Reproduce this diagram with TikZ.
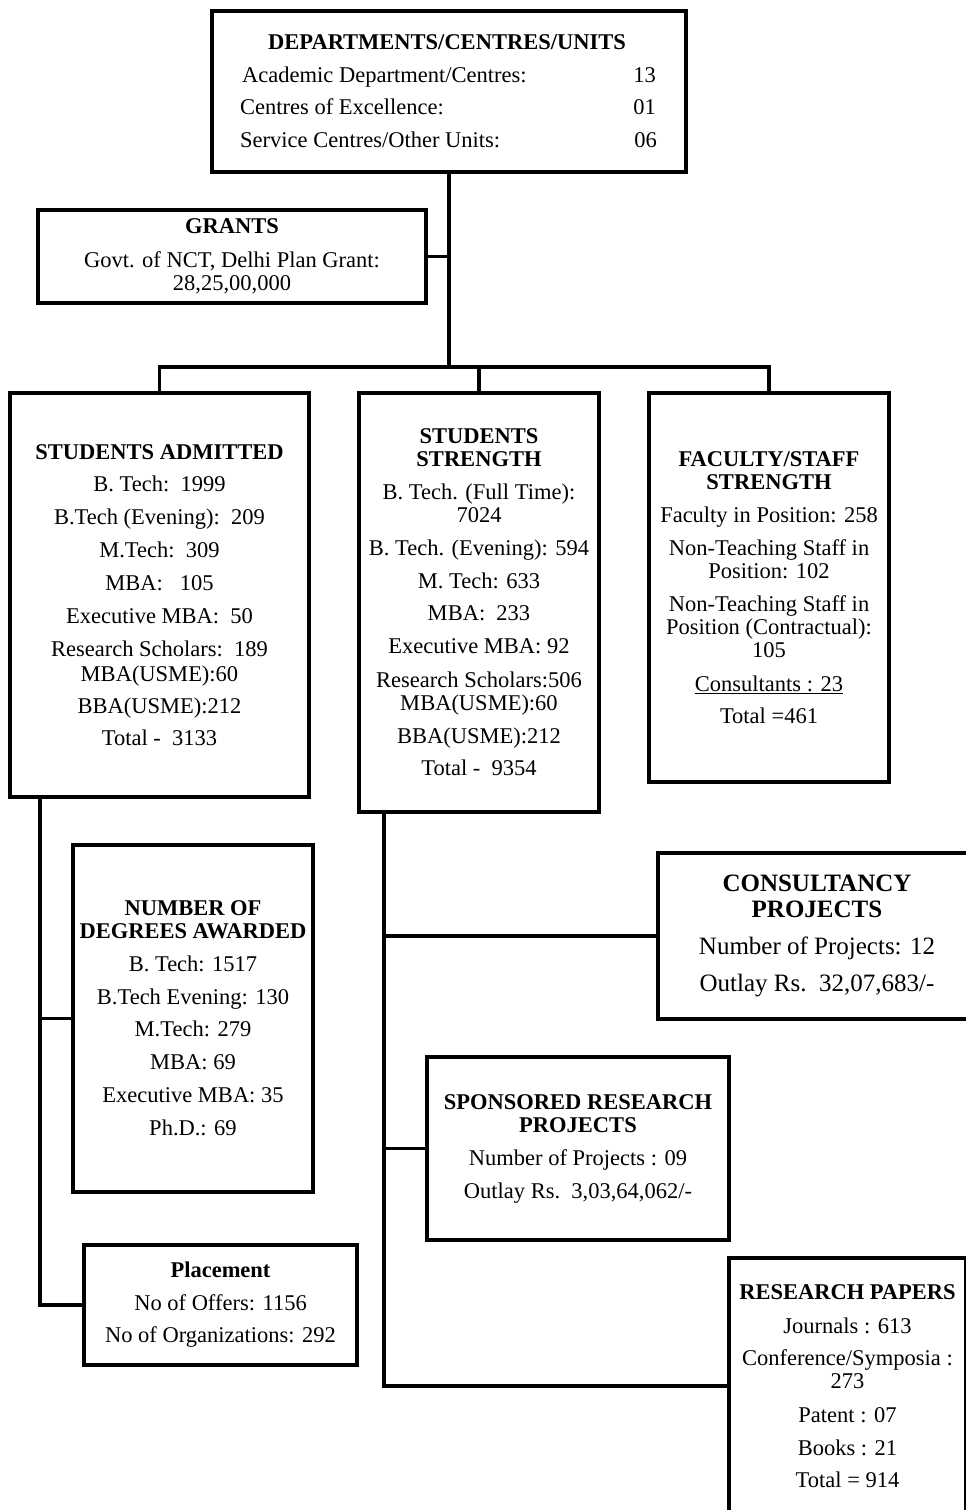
\documentclass[tikz,border=0pt]{standalone}
\usepackage{fontspec}
\setmainfont{Liberation Serif}
\begin{document}
\begin{tikzpicture}[x=1pt,y=-1pt,
  box/.style={draw, line width=3.5pt, align=center, inner sep=0pt,
    font=\fontsize{22.5}{23}\selectfont},
  txt/.style={inner sep=0pt, font=\fontsize{22.5}{23}\selectfont},
  bigbox/.style={box, font=\fontsize{25}{26}\selectfont},
  conn/.style={line width=3.5pt}]
\useasboundingbox (0,0) rectangle (966,1510);
\fill[white] (0,0) rectangle (966,1510);

% top box
\node[box, minimum width=474pt, minimum height=161pt] (top) at (449,91.5) {};
\node[txt, anchor=base, font=\bfseries\fontsize{22.5}{23}\selectfont] (toph) at (447,49) {DEPARTMENTS/CENTRES/UNITS};
\node[txt, anchor=base west] (r1) at (242,82) {Academic Department/Centres:};
\node[txt, anchor=base east] (n1) at (656,82) {13};
\node[txt, anchor=base west] (r2) at (240,114) {Centres of Excellence:};
\node[txt, anchor=base east] (n2) at (656,114) {01};
\node[txt, anchor=base west] (r3) at (240,147) {Service Centres/Other Units:};
\node[txt, anchor=base east] (n3) at (657,147) {06};

% grants
\node[box, minimum width=388pt, minimum height=93pt] (grants) at (232,256.5)
  {{\bfseries GRANTS}\\[11pt]Govt. of NCT, Delhi Plan Grant:\\28,25,00,000};

\coordinate (hub) at (449,367);

% students admitted
\node[box, minimum width=299pt, minimum height=404pt] (sa) at (159.5,595)
  {{\bfseries STUDENTS ADMITTED}\\[9pt]
   B. Tech:\ \ 1999\\[10pt]
   B.Tech (Evening):\ \ 209\\[10pt]
   M.Tech:\ \ 309\\[10pt]
   MBA:\ \ \ 105\\[10pt]
   Executive MBA:\ \ 50\\[10pt]
   Research Scholars:\ \ 189\\[2pt]
   MBA(USME):60\\[9pt]
   BBA(USME):212\\[9pt]
   Total -\ \ 3133};

% students strength
\node[box, minimum width=240pt, minimum height=419pt] (ss) at (479,602.5)
  {{\bfseries STUDENTS}\\{\bfseries STRENGTH}\\[10pt]
   B. Tech. (Full Time):\\7024\\[10pt]
   B. Tech. (Evening): 594\\[10pt]
   M. Tech: 633\\[9pt]
   MBA:\ \ 233\\[10pt]
   Executive MBA: 92\\[11pt]
   Research Scholars:506\\
   MBA(USME):60\\[10pt]
   BBA(USME):212\\[9pt]
   Total -\ \ 9354};

% faculty
\node[box, minimum width=240pt, minimum height=389pt] (fs) at (769,587.5)
  {{\bfseries FACULTY/STAFF}\\{\bfseries STRENGTH}\\[10pt]
   Faculty in Position: 258\\[10pt]
   Non-Teaching Staff in\\Position: 102\\[10pt]
   Non-Teaching Staff in\\Position (Contractual):\\105\\[11pt]
   \underline{Consultants : 23}\\[9pt]
   Total =461};

% degrees
\node[box, minimum width=240pt, minimum height=347pt] (deg) at (193,1018.5)
  {{\bfseries NUMBER OF}\\{\bfseries DEGREES AWARDED}\\[10pt]
   B. Tech: 1517\\[10pt]
   B.Tech Evening: 130\\[9pt]
   M.Tech: 279\\[10pt]
   MBA: 69\\[10pt]
   Executive MBA: 35\\[10pt]
   Ph.D.: 69};

% placement
\node[box, minimum width=273pt, minimum height=120pt] (pl) at (220.5,1305)
  {{\bfseries Placement}\\[10pt]
   No of Offers: 1156\\[9pt]
   No of Organizations: 292};

% consultancy
\node[bigbox, minimum width=318pt, minimum height=166pt] (cons) at (817,936)
  {{\bfseries CONSULTANCY}\\{\bfseries PROJECTS}\\[11pt]
   Number of Projects: 12\\[11pt]
   Outlay Rs.\ \ 32,07,683/-};

% sponsored
\node[box, minimum width=302pt, minimum height=183pt] (spon) at (578,1148.5)
  {{\bfseries SPONSORED RESEARCH}\\{\bfseries PROJECTS}\\[10pt]
   Number of Projects : 09\\[10pt]
   Outlay Rs.\ \ 3,03,64,062/-};

% research papers
\node[box, minimum width=237pt, minimum height=256pt] (rp) at (847.5,1386)
  {{\bfseries RESEARCH PAPERS}\\[11pt]
   Journals : 613\\[9pt]
   Conference/Symposia :\\273\\[11pt]
   Patent : 07\\[10pt]
   Books : 21\\[9pt]
   Total = 914};

\coordinate (lt) at (40,797);
\coordinate (mt) at (384,812);

\draw[conn] (top.south) -- (hub);
\draw[conn] (grants.east) -- (grants.east -| hub);
\draw[conn] (sa.north) |- (hub) -| (fs.north);
\draw[conn] (ss.north) -- (ss.north |- hub);
\draw[conn] (lt) |- (deg.west);
\draw[conn] (lt) |- (pl.west);
\draw[conn] (mt) |- (cons.west);
\draw[conn] (mt) |- (spon.west);
\draw[conn] (mt) |- (rp.west);
\end{tikzpicture}
\end{document}
